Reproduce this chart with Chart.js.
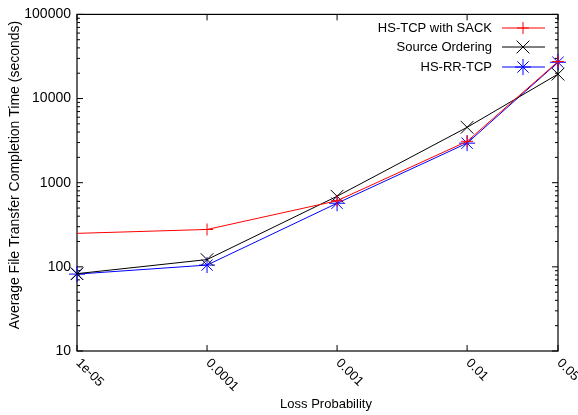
<!DOCTYPE html>
<html>
<head>
<meta charset="utf-8">
<script src="https://cdn.jsdelivr.net/npm/chart.js@4.4.1/dist/chart.umd.min.js"></script>
<style>
  body { margin: 0; background: #fff; }
  canvas { display: block; }
</style>
</head>
<body>
<canvas id="chart" width="578" height="415"></canvas>
<script>
// loss probabilities (x) and tick labels
const lossProb = [1e-5, 1e-4, 1e-3, 1e-2, 0.05];
const xTickLabels = ['1e-05', '0.0001', '0.001', '0.01', '0.05'];
const yTickValues = [10, 100, 1000, 10000, 100000];

// average completion times (seconds)
const hsTcpSack = [250, 278, 610, 3100, 27500];
const sourceOrdering = [83, 122, 690, 4550, 19500];
const hsRrTcp = [82, 105, 570, 2950, 27000];

const FAMILY = '"Liberation Sans", Arial, sans-serif';
const FONT = '13px ' + FAMILY;

function toPoints(values) {
    return lossProb.map((x, i) => ({ x: x, y: values[i] }));
}

// gnuplot-like frame, inward ticks, rotated x labels, axis titles and key
const gnuplotFrame = {
    id: 'gnuplotFrame',
    beforeDatasetsDraw(chart) {
        const ctx = chart.ctx;
        const area = chart.chartArea;
        const xs = chart.scales.x;
        const ys = chart.scales.y;
        ctx.save();
        ctx.strokeStyle = '#000';
        ctx.lineWidth = 1.2;
        ctx.strokeRect(area.left, area.top, area.right - area.left, area.bottom - area.top);

        ctx.lineWidth = 1;
        ctx.beginPath();
        // y ticks, major + minor, both sides
        for (let d = 10; d <= 100000; d *= 10) {
            const py = ys.getPixelForValue(d);
            ctx.moveTo(area.left, py); ctx.lineTo(area.left + 6, py);
            ctx.moveTo(area.right, py); ctx.lineTo(area.right - 6, py);
            if (d < 100000) {
                for (let k = 2; k <= 9; k++) {
                    const my = ys.getPixelForValue(k * d);
                    ctx.moveTo(area.left, my); ctx.lineTo(area.left + 3, my);
                    ctx.moveTo(area.right, my); ctx.lineTo(area.right - 3, my);
                }
            }
        }
        // x ticks top and bottom
        lossProb.forEach(v => {
            const px = xs.getPixelForValue(v);
            ctx.moveTo(px, area.bottom); ctx.lineTo(px, area.bottom - 6);
            ctx.moveTo(px, area.top); ctx.lineTo(px, area.top + 6);
        });
        ctx.stroke();
        ctx.restore();
    },
    afterDraw(chart) {
        const ctx = chart.ctx;
        const area = chart.chartArea;
        const xs = chart.scales.x;
        ctx.save();
        ctx.fillStyle = '#000';
        ctx.font = FONT;

        // rotated x tick labels
        lossProb.forEach((v, i) => {
            const px = xs.getPixelForValue(v);
            ctx.save();
            ctx.translate(px + 1, area.bottom + 10);
            ctx.rotate(Math.PI / 4);
            ctx.textAlign = 'left';
            ctx.textBaseline = 'middle';
            ctx.fillText(xTickLabels[i], 0, 0);
            ctx.restore();
        });

        // axis titles
        ctx.textAlign = 'center';
        ctx.textBaseline = 'middle';
        ctx.fillText('Loss Probability', 326, 404);
        ctx.save();
        ctx.font = '14px ' + FAMILY;
        ctx.translate(15, 175);
        ctx.rotate(-Math.PI / 2);
        ctx.fillText('Average File Transfer Completion Time (seconds)', 0, 0);
        ctx.restore();

        // key
        const rows = [28, 47, 67];
        chart.data.datasets.forEach((ds, i) => {
            const y = rows[i];
            ctx.textAlign = 'right';
            ctx.fillStyle = '#000';
            ctx.fillText(ds.label, 492, y);
            ctx.strokeStyle = ds.borderColor;
            ctx.lineWidth = 1;
            ctx.beginPath();
            ctx.moveTo(502, y);
            ctx.lineTo(545, y);
            ctx.stroke();
            Chart.helpers.drawPoint(ctx, {
                pointStyle: ds.pointStyle,
                radius: ds.keyRadius,
                borderWidth: 1,
                rotation: 0
            }, 523, y);
        });
        ctx.restore();
    }
};

const chart = new Chart(document.getElementById('chart'), {
    type: 'line',
    data: {
        datasets: [
            {
                label: 'HS-TCP with SACK',
                data: toPoints(hsTcpSack),
                borderColor: '#ff0000',
                pointBorderColor: '#ff0000',
                pointBackgroundColor: '#ff0000',
                pointStyle: 'cross',
                pointRadius: [0, 6, 6, 6, 6],
                keyRadius: 6,
                borderWidth: 1,
                clip: false
            },
            {
                label: 'Source Ordering',
                data: toPoints(sourceOrdering),
                borderColor: '#000000',
                pointBorderColor: '#000000',
                pointBackgroundColor: '#000000',
                pointStyle: 'crossRot',
                pointRadius: 9,
                keyRadius: 9,
                borderWidth: 1,
                clip: false
            },
            {
                label: 'HS-RR-TCP',
                data: toPoints(hsRrTcp),
                borderColor: '#0000ff',
                pointBorderColor: '#0000ff',
                pointBackgroundColor: '#0000ff',
                pointStyle: 'star',
                pointRadius: 8,
                keyRadius: 8,
                borderWidth: 1,
                clip: false
            }
        ]
    },
    options: {
        responsive: false,
        animation: false,
        layout: { padding: { left: 0, top: 14, right: 20, bottom: 0 } },
        plugins: {
            legend: { display: false },
            tooltip: { enabled: false }
        },
        elements: { line: { tension: 0 } },
        scales: {
            x: {
                type: 'logarithmic',
                min: 1e-5,
                max: 0.05,
                grid: { display: false },
                border: { display: false },
                ticks: { display: false },
                afterFit(scale) { scale.height = 64; }
            },
            y: {
                type: 'logarithmic',
                min: 10,
                max: 100000,
                grid: { display: false, drawTicks: false },
                border: { display: false },
                afterBuildTicks(scale) {
                    scale.ticks = yTickValues.map(v => ({ value: v }));
                },
                ticks: {
                    color: '#000',
                    padding: 6,
                    font: { family: FAMILY, size: 14 },
                    callback: (v) => String(v)
                },
                afterFit(scale) { scale.width = 77; }
            }
        }
    },
    plugins: [gnuplotFrame]
});
</script>
</body>
</html>
